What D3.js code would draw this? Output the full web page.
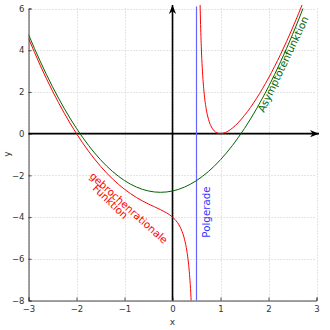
<!DOCTYPE html>
<html><head><meta charset="utf-8">
<script src="https://cdn.jsdelivr.net/npm/d3@7"></script>
<style>body{margin:0;background:#fff}svg{display:block}</style>
</head><body>
<svg id="c" width="330" height="330"></svg>
<script>
// tick values
const xTicks = [-3, -2, -1, 0, 1, 2, 3];
const yTicks = [-8, -6, -4, -2, 0, 2, 4, 6];
// Asymptotenfunktion (green)
const greenX = [-3, -2.75, -2.5, -2.25, -2, -1.75, -1.5, -1.25, -1, -0.75, -0.5, -0.25, 0, 0.25, 0.5, 0.75, 1, 1.25, 1.5, 1.75, 2, 2.25, 2.5, 2.75, 3];
const greenY = [4.75, 3.4375, 2.25, 1.1875, 0.25, -0.5625, -1.25, -1.8125, -2.25, -2.5625, -2.75, -2.8125, -2.75, -2.5625, -2.25, -1.8125, -1.25, -0.5625, 0.25, 1.1875, 2.25, 3.4375, 4.75, 6.1875, 7.75];
// gebrochenrationale Funktion (red), left branch
const redLeftX = [-3, -2.75, -2.5, -2.25, -2, -1.75, -1.5, -1.25, -1, -0.75, -0.5, -0.25, 0, 0.05, 0.1, 0.15, 0.2, 0.25, 0.3, 0.33, 0.35, 0.37, 0.38, 0.39, 0.4];
const redLeftY = [4.5714, 3.2452, 2.0417, 0.9602, 0, -0.8403, -1.5625, -2.1696, -2.6667, -3.0625, -3.375, -3.6458, -4, -4.1114, -4.2525, -4.4382, -4.6933, -5.0625, -5.635, -6.1526, -6.6192, -7.2358, -7.6239, -8.0847, -8.64];
// right branch
const redRightX = [0.56, 0.57, 0.58, 0.6, 0.62, 0.65, 0.7, 0.75, 0.8, 0.85, 0.9, 1, 1.1, 1.25, 1.5, 1.75, 2, 2.25, 2.5, 2.75, 3];
const redRightY = [8.26, 6.7885, 5.6889, 4.16, 3.1527, 2.1642, 1.215, 0.6875, 0.3733, 0.1832, 0.0725, 0, 0.0517, 0.2708, 0.875, 1.6875, 2.6667, 3.7946, 5.0625, 6.4653, 8.0];
// pole
const poleX = 0.5;

const svg = d3.select("#c");
const x = d3.scaleLinear().domain([-3, 3]).range([28.5, 316.5]);
const y = d3.scaleLinear().domain([-8, 6]).range([300.5, 8.5]);
const font = "'DejaVu Sans', sans-serif";

// grid
const grid = svg.append("g").attr("stroke", "#c8c8c8").attr("stroke-width", 1).attr("stroke-dasharray", "1,2");
grid.selectAll("line.v").data(xTicks).join("line")
  .attr("x1", d => Math.round(x(d)) + 0.5).attr("x2", d => Math.round(x(d)) + 0.5)
  .attr("y1", y(-8)).attr("y2", y(6));
grid.selectAll("line.h").data(yTicks).join("line")
  .attr("y1", d => Math.round(y(d)) + 0.5).attr("y2", d => Math.round(y(d)) + 0.5)
  .attr("x1", x(-3)).attr("x2", x(3));

// axes (frame left/bottom)
const ax = svg.append("g").attr("transform", `translate(${x(-3)},0)`)
  .call(d3.axisLeft(y).tickValues(yTicks).tickSize(-3).tickPadding(4).tickFormat(d3.format("d")));
const bx = svg.append("g").attr("transform", `translate(0,${y(-8)})`)
  .call(d3.axisBottom(x).tickValues(xTicks).tickSize(-3).tickPadding(5).tickFormat(d3.format("d")));
[ax, bx].forEach(g => {
  g.select(".domain").attr("stroke", "#444");
  g.selectAll(".tick line").attr("stroke", "#444");
  g.selectAll("text").attr("font-family", font).attr("font-size", 8.5).attr("fill", "#333");
});

// clip
svg.append("clipPath").attr("id", "clip").append("rect")
  .attr("x", x(-3)).attr("y", y(6)).attr("width", x(3) - x(-3)).attr("height", y(-8) - y(6));
svg.append("clipPath").attr("id", "clip2").append("rect")
  .attr("x", x(-3)).attr("y", 5).attr("width", x(3) - x(-3)).attr("height", y(-8) - 5);

// arrow markers
const defs = svg.append("defs");
defs.append("marker").attr("id", "arr").attr("viewBox", "0 0 10 10").attr("refX", 10).attr("refY", 5)
  .attr("markerWidth", 9).attr("markerHeight", 9).attr("markerUnits", "userSpaceOnUse").attr("orient", "auto")
  .append("path").attr("d", "M0,1 L10,5 L0,9 L3,5 Z").attr("fill", "#000");

// main axes
svg.append("line").attr("x1", x(-3)).attr("x2", 319).attr("y1", y(0)).attr("y2", y(0))
  .attr("stroke", "#000").attr("stroke-width", 1.6).attr("marker-end", "url(#arr)");
svg.append("line").attr("x1", x(0)).attr("x2", x(0)).attr("y1", y(-8)).attr("y2", 5)
  .attr("stroke", "#000").attr("stroke-width", 1.6).attr("marker-end", "url(#arr)");

// pole line
svg.append("line").attr("x1", x(poleX)).attr("x2", x(poleX)).attr("y1", y(-8)).attr("y2", y(6) - 2)
  .attr("stroke", "#6464ff").attr("stroke-width", 1.2);

const line = d3.line().x(d => x(d[0])).y(d => y(d[1])).curve(d3.curveMonotoneX);
const plot = svg.append("g").attr("clip-path", "url(#clip)");
plot.append("path").datum(greenX.map((v, i) => [v, greenY[i]])).attr("d", line)
  .attr("fill", "none").attr("stroke", "#006400").attr("stroke-width", 1);
plot.append("path").datum(redLeftX.map((v, i) => [v, redLeftY[i]])).attr("d", line)
  .attr("fill", "none").attr("stroke", "#ff0000").attr("stroke-width", 1);
svg.append("path").attr("clip-path", "url(#clip2)").datum(redRightX.map((v, i) => [v, redRightY[i]])).attr("d", line)
  .attr("fill", "none").attr("stroke", "#ff0000").attr("stroke-width", 1);

// axis labels
svg.append("text").attr("x", x(0)).attr("y", 325).attr("text-anchor", "middle")
  .attr("font-family", font).attr("font-size", 9).attr("fill", "#333").text("x");
svg.append("text").attr("transform", "translate(10,154) rotate(-90)").attr("text-anchor", "middle")
  .attr("font-family", font).attr("font-size", 9).attr("fill", "#333").text("y");

// annotations
svg.append("text").attr("transform", "translate(89,177) rotate(42)")
  .attr("font-family", font).attr("font-size", 10.3).attr("fill", "#ff0000").text("gebrochenrationale");
svg.append("text").attr("transform", "translate(92,189) rotate(44)")
  .attr("font-family", font).attr("font-size", 10.3).attr("fill", "#ff0000").text("Funktion");
svg.append("text").attr("transform", "translate(264,113) rotate(-64.6)")
  .attr("font-family", font).attr("font-size", 10.3).attr("fill", "#006400").text("Asymptotenfunktion");
svg.append("text").attr("transform", "translate(209.5,212) rotate(-90)").attr("text-anchor", "middle")
  .attr("font-family", font).attr("font-size", 10.3).attr("fill", "#3333ff").text("Polgerade");
</script>
</body></html>
